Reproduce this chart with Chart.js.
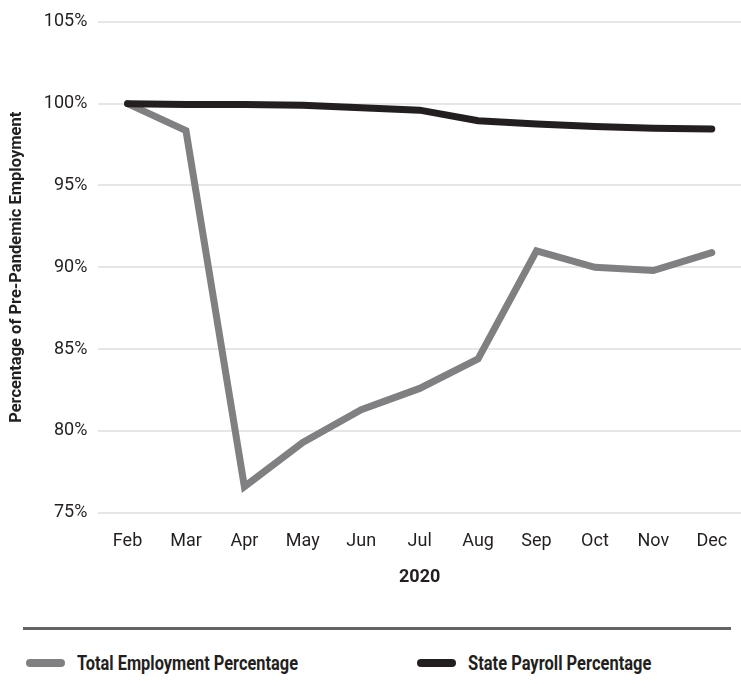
<!DOCTYPE html>
<html>
<head>
<meta charset="utf-8">
<script src="https://cdn.jsdelivr.net/npm/chart.js@4/dist/chart.umd.min.js"></script>
<style>
  html, body { margin: 0; padding: 0; background: #fff; }
  body { width: 741px; height: 696px; position: relative; overflow: hidden; font-family: Roboto, sans-serif; }
  #wrap { position: absolute; left: 0; top: 0; width: 741px; height: 600px; }
  #sep { position: absolute; left: 23px; top: 627px; width: 708px; height: 3px; background: #636363; }
  #legend { position: absolute; left: 0; top: 649px; width: 741px; height: 28px; }
  .item { position: absolute; top: 0; height: 28px; display: flex; align-items: center; }
  .swatch { width: 39px; height: 8px; border-radius: 4px; margin-right: 12px; flex: none; }
  .txt { display: inline-block; white-space: nowrap; font-weight: bold; font-size: 20px; color: #231f20;
         transform-origin: left center; }
</style>
</head>
<body>
<div id="wrap"><canvas id="chart"></canvas></div>
<div id="sep"></div>
<div id="legend"></div>
<script>
(function () {
    'use strict';

    const months = ["Feb", "Mar", "Apr", "May", "Jun", "Jul", "Aug", "Sep", "Oct", "Nov", "Dec"];
    const totalEmployment = [100, 98.35, 76.6, 79.3, 81.3, 82.6, 84.4, 91.0, 90.0, 89.8, 90.9];
    const statePayroll = [100, 99.95, 99.95, 99.9, 99.75, 99.6, 98.95, 98.75, 98.6, 98.5, 98.45];
    const yTicks = [75, 80, 85, 90, 95, 100, 105];

    const FONT = "Roboto, sans-serif";
    const INK = "#231f20";

    // left = legend item x, width = rendered width of label text in the reference
    const series = [
        { label: "Total Employment Percentage", data: totalEmployment, color: "#808083", order: 2, left: 26, width: 221 },
        { label: "State Payroll Percentage", data: statePayroll, color: INK, order: 1, left: 417, width: 183 }
    ];

    const ctx = document.getElementById("chart");
    new Chart(ctx, {
        type: "line",
        data: {
            labels: months,
            datasets: series.map(s => ({
                label: s.label,
                data: s.data,
                borderColor: s.color,
                backgroundColor: s.color,
                borderWidth: 7,
                borderCapStyle: "round",
                borderJoinStyle: "miter",
                pointRadius: 0,
                tension: 0,
                order: s.order
            }))
        },
        options: {
            responsive: true,
            maintainAspectRatio: false,
            animation: false,
            layout: { padding: { top: 8, left: 7, right: 0, bottom: 8 } },
            plugins: { legend: { display: false }, tooltip: { enabled: false } },
            scales: {
                x: {
                    offset: true,
                    grid: { display: true, drawOnChartArea: false, drawTicks: true, tickLength: 15, tickColor: "rgba(0,0,0,0)" },
                    border: { display: false },
                    ticks: { color: INK, font: { family: FONT, size: 18 }, padding: 3, maxRotation: 0, autoSkip: false },
                    title: { display: true, text: "2020", color: INK, font: { family: FONT, size: 18, weight: "bold" }, padding: { top: 11, bottom: 4 } }
                },
                y: {
                    min: 75,
                    max: 105,
                    afterBuildTicks: axis => { axis.ticks = yTicks.map(v => ({ value: v })); },
                    grid: { color: "#e6e6e6", lineWidth: 2, drawTicks: false },
                    border: { display: false },
                    ticks: { color: INK, font: { family: FONT, size: 18 }, padding: 11, callback: v => v + "%" },
                    title: { display: true, text: "Percentage of Pre-Pandemic Employment", color: INK, font: { family: FONT, size: 16.5, weight: "bold" }, padding: { top: 0, bottom: 6 } }
                }
            }
        }
    });

    const legend = document.getElementById("legend");
    series.forEach(s => {
        legend.insertAdjacentHTML("beforeend", `
          <div class="item" style="left:${s.left}px">
            <span class="swatch" style="background:${s.color}"></span><span class="txt">${s.label}</span>
          </div>
        `);
    });
    // squeeze the legend text to the condensed width of the original
    legend.querySelectorAll(".txt").forEach((el, i) => {
        el.style.transform = `scaleX(${series[i].width / el.offsetWidth})`;
    });
})();
</script>
</body>
</html>
